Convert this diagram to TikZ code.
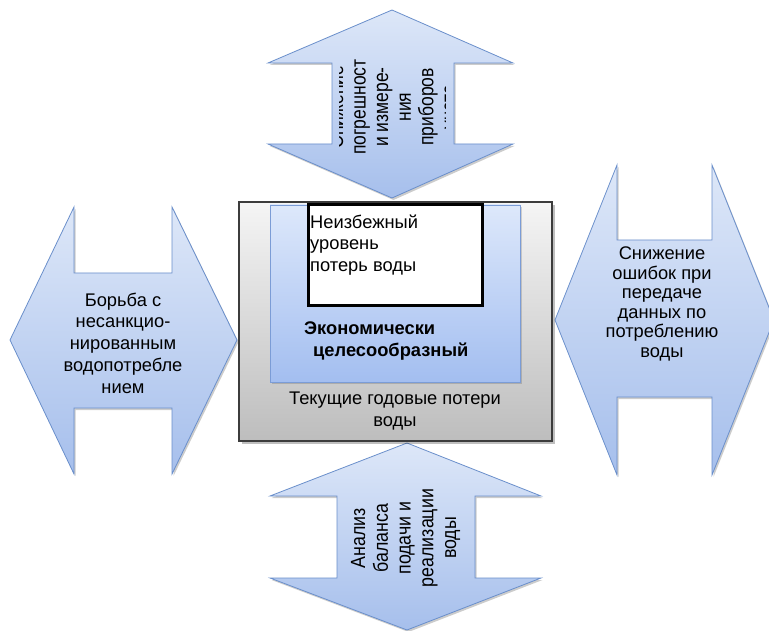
\documentclass[tikz,border=0pt]{standalone}
\usepackage{fontspec}
\setmainfont{Liberation Sans}
\usepackage{graphicx}
\definecolor{arrline}{HTML}{6A8FCB}
\definecolor{arrtop}{HTML}{DDE7F8}
\definecolor{arrbot}{HTML}{A6BFEC}
\definecolor{boxtop}{HTML}{F5F5F5}
\definecolor{boxbot}{HTML}{BDBDBD}
\definecolor{boxline}{HTML}{3C3C3C}
\definecolor{ectop}{HTML}{DDE8FB}
\definecolor{ecbot}{HTML}{A3BEF0}
\definecolor{ecline}{HTML}{7B9CD6}
\tikzset{
  bluearrow/.style={preaction={fill=black,opacity=0.2,transform canvas={shift={(1.5pt,-2pt)}}},
    draw=arrline, line width=0.8pt, line join=miter, top color=arrtop, bottom color=arrbot},
  greybox/.style={draw=boxline, line width=1.2pt, top color=boxtop, bottom color=boxbot,
    inner sep=0pt, preaction={fill=black,opacity=0.25,transform canvas={shift={(3pt,-3pt)}}}},
  ecbox/.style={draw=ecline, line width=0.8pt, top color=ectop, bottom color=ecbot, inner sep=0pt,
    preaction={fill=black,opacity=0.15,transform canvas={shift={(1.5pt,-2pt)}}}},
  whitebox/.style={draw=black, line width=3pt, fill=white, inner sep=0pt},
  lbl/.style={inner sep=0pt, align=center, text=black},
}
\begin{document}
\begin{tikzpicture}[x=1pt,y=-1pt]
\useasboundingbox[fill=white] (0,0) rectangle (769,631);

% arrows
\path[bluearrow] (10,340) -- (74,207) -- (74,273) -- (172,273) -- (172,207) -- (237,340)
  -- (172,474) -- (172,408) -- (74,408) -- (74,474) -- cycle;
\path[bluearrow] (555,320) -- (617,165) -- (617,240) -- (712,240) -- (712,165) -- (774,320)
  -- (712,475) -- (712,397) -- (617,397) -- (617,475) -- cycle;
\path[bluearrow] (392,10) -- (513,63) -- (454,63) -- (454,144) -- (513,144) -- (392,198)
  -- (268,144) -- (332,144) -- (332,63) -- (268,63) -- cycle;
\path[bluearrow] (407,443) -- (541,496) -- (475,496) -- (475,578) -- (541,578) -- (407,630)
  -- (270,578) -- (337,578) -- (337,496) -- (270,496) -- cycle;

% central boxes
\node (cur) [greybox, minimum width=313pt, minimum height=239pt] at (395.5,321.5) {};
\node (eco) [ecbox, minimum width=250pt, minimum height=177pt] at (395,293.5) {};
\node (una) [whitebox, minimum width=174pt, minimum height=101pt] at (395,255.5) {};

% texts
\node (unatxt) [lbl, anchor=west, align=left, font=\fontsize{18.3}{21.5}\selectfont] at (310,245)
  {Неизбежный\\уровень\\потерь воды};
\node (ecotxt) [lbl, anchor=west, align=left, font=\fontsize{18.3}{22}\selectfont\bfseries] at (304,341)
  {Экономически\\\hspace*{9pt}целесообразный};
\node (curtxt) [lbl, font=\fontsize{18.3}{22}\selectfont] at (395,411)
  {Текущие годовые потери\\воды};
\node (lefttxt) [lbl, font=\fontsize{18.3}{21.7}\selectfont] at (123,343)
  {Борьба с\\несанкцио-\\нированным\\водопотребле\\нием};
\node (righttxt) [lbl, font=\fontsize{18.3}{19.6}\selectfont] at (662,304)
  {Снижение\\ошибок при\\передаче\\данных по\\потреблению\\воды};
\begin{scope}
\clip (339,10) rectangle (445,198);
\node (toptxt) [lbl, rotate=90] at (395,107)
  {\scalebox{1}[1.2]{\fontsize{17.5}{18.8}\selectfont\begin{tabular}{@{}c@{}}Снижение\\погрешност\\и измере-\\ния\\приборов\\учета\end{tabular}}};
\end{scope}
\node (bottxt) [lbl, rotate=90] at (406,538)
  {\scalebox{1}[1.15]{\fontsize{17.8}{19.8}\selectfont\begin{tabular}{@{}c@{}}Анализ\\баланса\\подачи и\\реализации\\воды\end{tabular}}};
\end{tikzpicture}
\end{document}
